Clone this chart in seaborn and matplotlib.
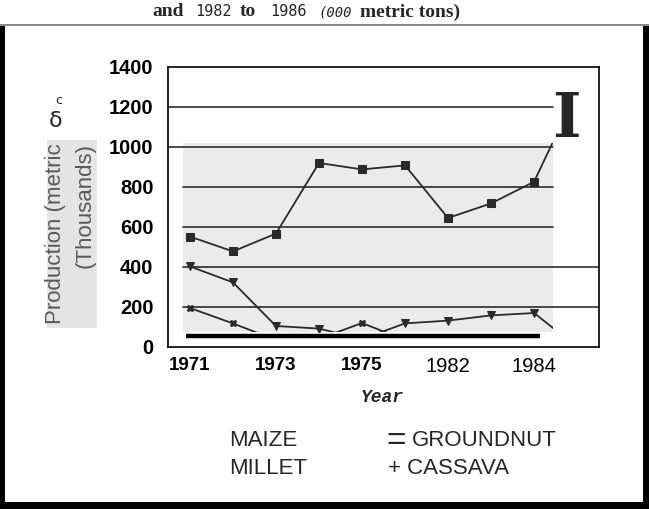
import numpy as np
import pandas as pd
import matplotlib
matplotlib.use("Agg")
import matplotlib.pyplot as plt
import seaborn as sns
from matplotlib.patches import Rectangle
from matplotlib.transforms import ScaledTranslation

# ---- data (thousands of metric tons) ----
years = ["1971", "1972", "1973", "1974", "1975", "1976", "1982", "1983", "1984", "1985"]
maize = [552, 478, 567, 920, 888, 908, 645, 718, 826, 1280]
millet = [403, 323, 105, 92, 40, 118, 132, 158, 170, 0]
cassava = [195, 118, 35, 40, 120, 35, 35, 35, 35, 35]
tick_years = ["1971", "1973", "1975", "1982", "1984"]
bold_ticks = ["1971", "1973", "1975"]
y_ticks = [0, 200, 400, 600, 800, 1000, 1200, 1400]
legend_left = ["MAIZE", "MILLET"]
legend_right = ["GROUNDNUT", "CASSAVA"]

pos = np.arange(len(years))
df = pd.DataFrame({"pos": np.tile(pos, 3),
                   "value": maize + millet + cassava,
                   "crop": ["Maize"] * len(years) + ["Millet"] * len(years) + ["Cassava"] * len(years)})

sns.set_theme(style="white")
W, H = 649, 509
fig = plt.figure(figsize=(W / 100, H / 100), dpi=100)
fig.patch.set_facecolor("white")


def fx(x):
    return x / W


def fy(y):
    return 1 - y / H


ax = fig.add_axes([fx(168), fy(347), (599 - 168) / W, (347 - 67) / H])
ax.set_facecolor("white")

# scanned grey panel
panel = Rectangle((-0.16, 75), 8.6, 945, transform=ax.transData,
                  facecolor="#ebebeb", edgecolor="none", zorder=0.5)
ax.add_patch(panel)

styles = {"Maize": "s", "Millet": "v", "Cassava": "X"}
for crop, mk in styles.items():
    sub = df[df["crop"] == crop]
    sns.lineplot(data=sub, x="pos", y="value", marker=mk, color="#2a2a2a",
                 markersize=6 if mk != "X" else 5, linewidth=1.3, sort=False,
                 legend=False, ax=ax, zorder=3, markeredgecolor="#2a2a2a")
for ln in ax.lines:
    ln.set_clip_path(panel)

# horizontal rules
for v in y_ticks[1:-1]:
    if v >= 1000:
        xmin, xmax = 0.0, 0.893
    elif v >= 600:
        xmin, xmax = 0.035, 0.893
    else:
        xmin, xmax = 0.035, 1.0
    ax.axhline(v, xmin=xmin, xmax=xmax, color="#1a1a1a", lw=1.1, zorder=2)

# thick black bar under the data
ax.hlines(55, -0.09, 8.14, color="black", lw=3.2, zorder=4)

ax.set_xlim(-0.51, 9.51)
ax.set_ylim(0, 1400)
ax.set_yticks(y_ticks)
ax.set_yticklabels([str(v) for v in y_ticks], fontsize=14.5, fontweight="bold",
                   fontfamily="Liberation Sans")
ax.set_xticks(pos[::2])
ax.set_xticklabels(tick_years, fontfamily="Liberation Sans")
shift = ScaledTranslation(-4 / 100, 0, fig.dpi_scale_trans)
for lab in ax.get_xticklabels():
    if lab.get_text() in bold_ticks:
        lab.set_fontweight("bold")
        lab.set_fontsize(13.5)
    else:
        lab.set_fontsize(14.5)
    lab.set_transform(lab.get_transform() + shift)
ax.tick_params(axis="both", length=0, colors="black")
ax.tick_params(axis="y", pad=10.5)
ax.tick_params(axis="x", pad=7)
ax.set_xlabel("")
ax.set_ylabel("")
for s in ax.spines.values():
    s.set_visible(True)
    s.set_color("black")
    s.set_linewidth(1.2)

# big slab-serif "I"
fig.text(fx(566), fy(120), "I", fontfamily="DejaVu Serif", fontweight="bold",
         fontsize=44, ha="center", va="center")

# y label block
fig.patches.append(Rectangle((fx(47), fy(328)), (97 - 47) / W, (328 - 140) / H,
                             transform=fig.transFigure, facecolor="#e4e4e4",
                             edgecolor="none", zorder=0))
fig.text(fx(56), fy(143), "Production (metric", rotation=90, rotation_mode="anchor",
         ha="right", va="center", fontsize=16, color="#5a5a5a", fontfamily="Liberation Sans")
fig.text(fx(85), fy(143), "(Thousands)", rotation=90, rotation_mode="anchor",
         ha="right", va="center", fontsize=16, color="#5a5a5a", fontfamily="Liberation Sans")
fig.text(fx(56), fy(121), "δ", fontsize=16, ha="center", va="center", fontfamily="DejaVu Sans")
fig.text(fx(59), fy(100), "c", fontsize=9, ha="center", va="center", fontfamily="DejaVu Sans")

# x label
fig.text(fx(382), fy(398), "Year", fontfamily="Liberation Mono", fontweight="bold",
         fontstyle="italic", fontsize=13, ha="center", va="center")

# legend-like text
fig.text(fx(229), fy(441), legend_left[0], fontsize=16, fontfamily="Liberation Sans", va="center")
fig.text(fx(229), fy(468), legend_left[1], fontsize=16, fontfamily="Liberation Sans", va="center")
fig.text(fx(396), fy(441), "=", fontsize=24, fontfamily="Liberation Sans", ha="center", va="center")
fig.text(fx(412), fy(441), legend_right[0], fontsize=16, fontfamily="Liberation Sans", va="center")
fig.text(fx(388), fy(468), "+ " + legend_right[1], fontsize=16, fontfamily="Liberation Sans", va="center")

# title pieces
base = fy(16.5)
fig.text(fx(152.7), base, "and", fontfamily="Liberation Serif", fontweight="bold", fontsize=14, va="baseline")
fig.text(fx(195), base, "1982", fontfamily="DejaVu Sans Mono", fontsize=11, va="baseline")
fig.text(fx(240), base, "to", fontfamily="Liberation Serif", fontweight="bold", fontsize=14, va="baseline")
fig.text(fx(270), base, "1986", fontfamily="DejaVu Sans Mono", fontsize=11, va="baseline")
fig.text(fx(318), base, "(000", fontfamily="DejaVu Sans Mono", fontstyle="italic", fontsize=10, va="baseline")
fig.text(fx(360), base, "metric tons)", fontfamily="Liberation Serif", fontweight="bold", fontsize=14, va="baseline")

# page frame
fig.patches.append(Rectangle((0, fy(509)), fx(5), (509 - 25) / H, transform=fig.transFigure,
                             facecolor="black", edgecolor="none"))
fig.patches.append(Rectangle((fx(643), fy(509)), fx(6), (509 - 25) / H, transform=fig.transFigure,
                             facecolor="black", edgecolor="none"))
fig.patches.append(Rectangle((0, 0), 1, 7 / H, transform=fig.transFigure,
                             facecolor="black", edgecolor="none"))
fig.patches.append(Rectangle((0, fy(26)), 1, 2 / H, transform=fig.transFigure,
                             facecolor="#8a8a8a", edgecolor="none"))

fig.savefig("out.png", dpi=100)
